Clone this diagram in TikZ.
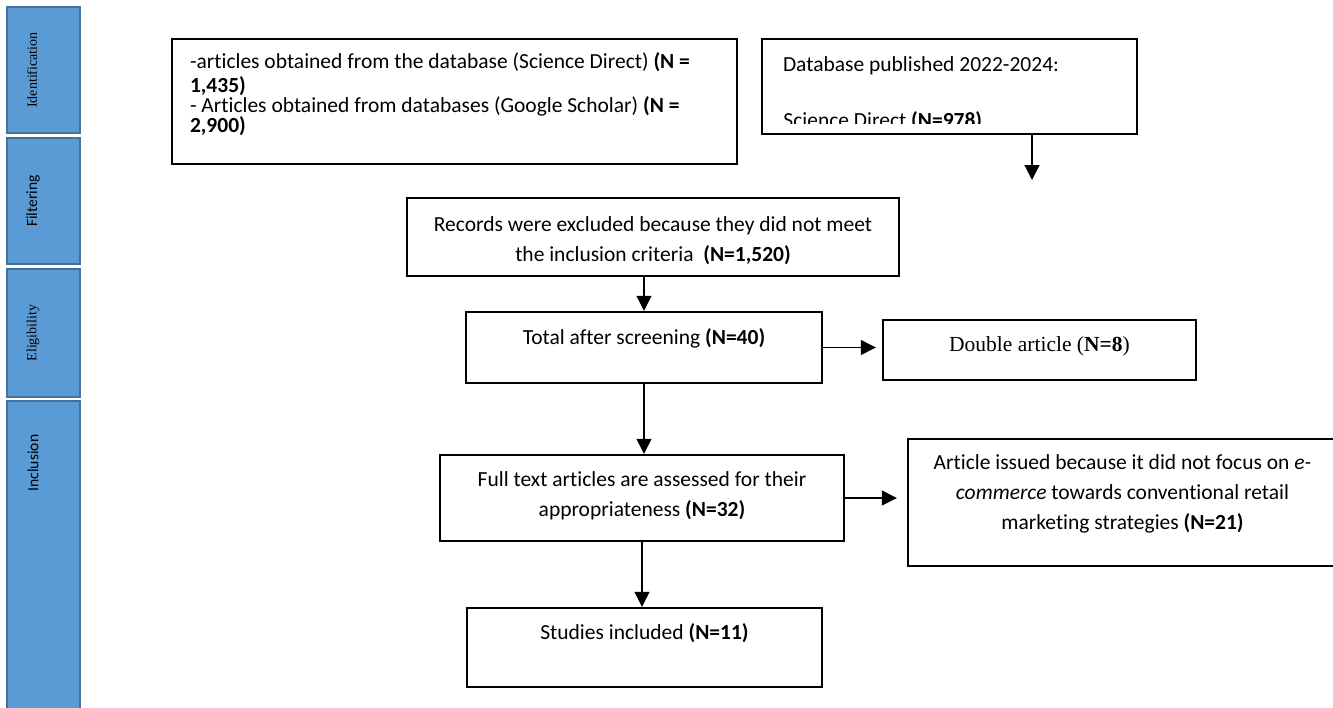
\documentclass[tikz,border=0pt]{standalone}
\usepackage{fontspec}
\setmainfont{Carlito}[Ligatures=NoCommon]
\newfontfamily\tnr{Liberation Serif}
\usetikzlibrary{arrows.meta}

\definecolor{phasefill}{HTML}{5B9BD5}
\definecolor{phaseline}{HTML}{41719C}

% text box: width, height, top padding, text
\newcommand\cell[4]{\parbox[c][#2][t]{#1}{\centering\vspace*{#3}\strut#4}}

\begin{document}
\begin{tikzpicture}[x=0.5pt, y=-0.5pt,
  box/.style={draw, line width=1.2pt, inner sep=0pt, font=\fontsize{10.75}{15}\selectfont},
  arr/.style={line width=0.6pt, -{Triangle[length=7.5pt, width=7.5pt]}},
  phase/.style={fill=phasefill, draw=phaseline, line width=0.8pt},
  phaselabel/.style={rotate=90, inner sep=0pt}]

\useasboundingbox (0,0) rectangle (1333,707);

%% phases
\draw[phase] (7,7) rectangle (80,133);
\draw[phase] (7,138) rectangle (80,264);
\draw[phase] (7,269) rectangle (80,397);
\draw[phase] (7,401) rectangle (80,712);
\node[phaselabel, font=\tnr\fontsize{7}{8}\selectfont] (idf) at (32,70) {Identification};
\node[phaselabel, font=\fontsize{7.8}{9}\selectfont] (flt) at (33,201) {Filtering};
\node[phaselabel, font=\tnr\fontsize{7}{8}\selectfont] (elg) at (33,333) {Eligibility};
\node[phaselabel, font=\fontsize{7.8}{9}\selectfont] (inc) at (33,463) {Inclusion};

%% identification
\node[box] (src) at (454.5,101.5) {\parbox[c][62.5pt][t]{282.5pt}{\fontsize{10.75}{10}\selectfont
  \leftskip=9pt\vspace*{6.75pt}\strut-articles obtained from the database (Science Direct) \textbf{(N =}\\
  \textbf{1,435)}\\
  - Articles obtained from databases (Google Scholar) \textbf{(N =}\\
  \textbf{2,900)}}};
\node[box] (db) at (949.5,86.5) {\parbox[c][47.5pt][t]{187.5pt}{\leftskip=10.5pt
  \vspace*{5.75pt}\strut Database published 2022-2024:}};
\begin{scope}
\clip (762,39) rectangle (1137,123);
\node[anchor=base west, inner sep=0pt, font=\fontsize{10.75}{15}\selectfont] (sd) at (783,127.6)
  {Science Direct \textbf{(N=978)}};
\end{scope}
\coordinate (dbend) at (1032,180);

%% filtering
\node[box] (excl) at (653,237) {\cell{246pt}{39pt}{6.25pt}{Records were excluded because they did not meet\\
  the inclusion criteria~~\textbf{(N=1,520)}}};
\node[box] (tot) at (644,347.5) {\cell{178pt}{35.5pt}{5.75pt}{Total after screening \textbf{(N=40)}}};
\node[box, font=\tnr\fontsize{10.75}{15}\selectfont] (dbl) at (1039.5,350)
  {\cell{156.5pt}{30pt}{5.25pt}{Double article (\textbf{N=8})}};

%% eligibility
\node[box] (full) at (642,498) {\cell{202pt}{43pt}{5.25pt}{Full text articles are assessed for their\\
  appropriateness \textbf{(N=32)}}};
\node[box] (iss) at (1122.5,502.5) {\cell{214.5pt}{63.5pt}{4.75pt}{Article issued because it did not focus on \textit{e-}\\
  \textit{commerce} towards conventional retail\\
  marketing strategies \textbf{(N=21)}}};

%% inclusion
\node[box] (stud) at (644.5,647.5) {\cell{177.5pt}{39.5pt}{5.25pt}{Studies included \textbf{(N=11)}}};

%% arrows
\draw[arr] (db.south -| dbend) -- (dbend);
\draw[arr] (excl.south -| tot.north) -- (tot.north);
\draw[arr, shorten >=3pt] (tot.east) -- (tot.east -| dbl.west);
\draw[arr] (tot.south) -- (tot.south |- full.north);
\draw[arr, shorten >=5pt] (full.east) -- (full.east -| iss.west);
\draw[arr] (full.south) -- (full.south |- stud.north);

\end{tikzpicture}
\end{document}
